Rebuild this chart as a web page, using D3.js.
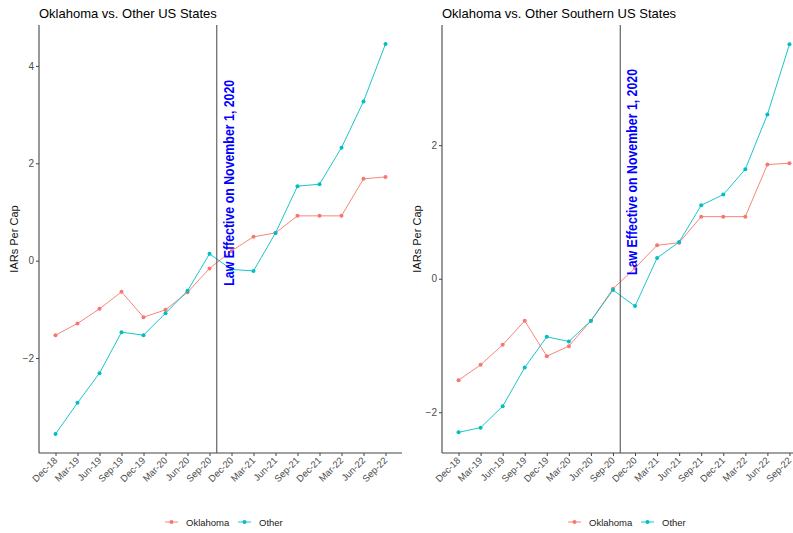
<!DOCTYPE html>
<html>
<head>
<meta charset="utf-8">
<script src="https://cdn.jsdelivr.net/npm/d3@7"></script>
<style>
  html, body { margin: 0; padding: 0; background: #fff; overflow: hidden; }
  svg { display: block; font-family: "Liberation Sans", Arial, sans-serif; }
</style>
</head>
<body>
<svg id="chart" width="793" height="533"></svg>
<script>
// Quarterly periods on the x axis
const periods = ["Dec-18","Mar-19","Jun-19","Sep-19","Dec-19","Mar-20","Jun-20","Sep-20",
                 "Dec-20","Mar-21","Jun-21","Sep-21","Dec-21","Mar-22","Jun-22","Sep-22"];

// Panel 1: Oklahoma vs. all other US states
const oklahomaAll = [-1.53,-1.29,-0.99,-0.64,-1.16,-1.01,-0.65,-0.16,
                      0.20, 0.49, 0.57, 0.92, 0.92, 0.92, 1.68, 1.72];
const otherAll    = [-3.56,-2.92,-2.31,-1.47,-1.53,-1.08,-0.62, 0.14,
                     -0.18,-0.21, 0.57, 1.53, 1.57, 2.32, 3.27, 4.45];

// Panel 2: Oklahoma vs. other southern US states
const oklahomaSouth = [-1.52,-1.29,-0.99,-0.63,-1.16,-1.01,-0.63,-0.15,
                        0.16, 0.50, 0.54, 0.93, 0.93, 0.93, 1.71, 1.73];
const otherSouth    = [-2.30,-2.23,-1.91,-1.33,-0.87,-0.94,-0.63,-0.17,
                       -0.41, 0.31, 0.55, 1.10, 1.26, 1.64, 2.46, 3.51];

const yTicksAll = [-2, 0, 2, 4];
const yTicksSouth = [-2, 0, 2];

const seriesNames = ["Oklahoma", "Other"];
const seriesColors = ["#F8766D", "#00BFC4"];

const panelTitles = ["Oklahoma vs. Other US States", "Oklahoma vs. Other Southern US States"];
const lawLabel = "Law Effective on November 1, 2020";
const lawPosition = 7.33;   // Nov 1, 2020 between Sep-20 and Dec-20
const labelPosition = 7.88;
const labelValue = 1.6;

const svg = d3.select("#chart");

function drawPanel(cfg) {
  const g = svg.append("g");
  const x = d3.scaleLinear().domain([-0.75, periods.length - 1 + 0.75]).range([cfg.x0, cfg.x1]);
  const y = d3.scaleLinear().domain(cfg.yDomain).range([cfg.yBottom, cfg.yTop]);

  // title
  g.append("text")
    .attr("x", cfg.x0).attr("y", 18)
    .attr("font-size", 13).attr("fill", "#000")
    .text(cfg.title);

  // y axis
  const yAxis = g.append("g")
    .attr("transform", `translate(${cfg.x0},0)`)
    .call(d3.axisLeft(y).tickValues(cfg.yTicks).tickSize(3).tickPadding(2).tickFormat(d3.format("d")));
  yAxis.select(".domain").attr("stroke", "#444").attr("stroke-width", 1.1)
    .attr("d", `M0,${cfg.yTop}V${cfg.yBottom}`);
  yAxis.selectAll(".tick line").attr("stroke", "#444");
  yAxis.selectAll(".tick text").attr("fill", "#4D4D4D").attr("font-size", 10)
    .attr("font-family", "Liberation Sans, Arial, sans-serif");

  // x axis
  const xAxis = g.append("g")
    .attr("transform", `translate(0,${cfg.yBottom})`)
    .call(d3.axisBottom(x).tickValues(d3.range(periods.length)).tickSize(3)
      .tickFormat(i => periods[i]));
  xAxis.select(".domain").attr("stroke", "#444").attr("stroke-width", 1.1)
    .attr("d", `M${cfg.x0},0H${cfg.x1}`);
  xAxis.selectAll(".tick line").attr("stroke", "#444");
  xAxis.selectAll(".tick text")
    .attr("fill", "#4D4D4D").attr("font-size", 9.5)
    .attr("font-family", "Liberation Sans, Arial, sans-serif")
    .attr("text-anchor", "end")
    .attr("dy", null).attr("y", null)
    .attr("transform", "translate(2,8) rotate(-45)");

  // y axis title
  g.append("text")
    .attr("transform", `translate(${cfg.x0 - 21},${(cfg.yTop + cfg.yBottom) / 2}) rotate(-90)`)
    .attr("text-anchor", "middle").attr("font-size", 11).attr("fill", "#111")
    .text("IARs Per Cap");

  // series
  const line = d3.line().x((d, i) => x(i)).y(d => y(d));
  cfg.series.forEach((vals, k) => {
    g.append("path").datum(vals)
      .attr("fill", "none").attr("stroke", seriesColors[k]).attr("stroke-width", 0.9)
      .attr("d", line);
    g.selectAll(null).data(vals).enter().append("circle")
      .attr("cx", (d, i) => x(i)).attr("cy", d => y(d)).attr("r", 2)
      .attr("fill", seriesColors[k]);
  });

  // law effective date marker
  g.append("line")
    .attr("x1", x(lawPosition)).attr("x2", x(lawPosition))
    .attr("y1", cfg.yTop).attr("y2", cfg.yBottom)
    .attr("stroke", "#555").attr("stroke-width", 1.1);

  g.append("text")
    .attr("transform", `translate(${x(labelPosition) + 5},${y(labelValue)}) rotate(-90)`)
    .attr("text-anchor", "middle")
    .attr("font-size", 15).attr("font-weight", "bold").attr("fill", "#0000FF")
    .attr("textLength", 206).attr("lengthAdjust", "spacingAndGlyphs")
    .text(lawLabel);

  // legend
  const lg = g.append("g").attr("transform", `translate(${cfg.legendX},522)`);
  const items = [
    { name: seriesNames[0], color: seriesColors[0], dx: 0 },
    { name: seriesNames[1], color: seriesColors[1], dx: 73 }
  ];
  items.forEach(it => {
    const ig = lg.append("g").attr("transform", `translate(${it.dx},0)`);
    ig.append("line").attr("x1", 0).attr("x2", 13).attr("y1", 0).attr("y2", 0)
      .attr("stroke", it.color).attr("stroke-width", 0.9);
    ig.append("circle").attr("cx", 6.5).attr("cy", 0).attr("r", 2).attr("fill", it.color);
    ig.append("text").attr("x", 21).attr("y", 3.5).attr("font-size", 9.5).attr("fill", "#222")
      .text(it.name);
  });
}

drawPanel({
  title: panelTitles[0], x0: 39, x1: 402, yTop: 25, yBottom: 453,
  yDomain: [-3.95, 4.84], yTicks: yTicksAll,
  series: [oklahomaAll, otherAll], legendX: 165
});

drawPanel({
  title: panelTitles[1], x0: 442, x1: 806, yTop: 25, yBottom: 453,
  yDomain: [-2.61, 3.80], yTicks: yTicksSouth,
  series: [oklahomaSouth, otherSouth], legendX: 568
});
</script>
</body>
</html>
